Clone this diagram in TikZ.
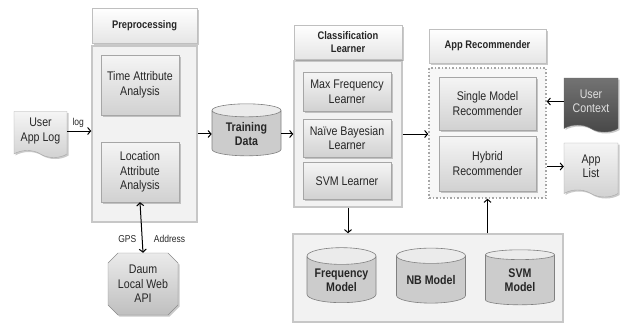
\documentclass[tikz,border=0pt]{standalone}
\usepackage{fontspec}
\newfontfamily\cond[FakeStretch=0.85]{Liberation Sans}
\usetikzlibrary{shapes.geometric,shapes.symbols,shapes.misc,arrows.meta,shadows}
\tikzset{
 txt/.style={font=\cond\fontsize{12.5}{14.5}\selectfont,text=black!85,align=center,inner sep=1pt},
 shd/.style={drop shadow={shadow xshift=1.5pt,shadow yshift=-1.5pt,opacity=0.35,fill=black!60}},
 box/.style={txt,shd,draw=black!35,top color=black!4,bottom color=black!18},
 hdr/.style={box,draw=black!25,line width=0.8pt,top color=white,bottom color=black!10,font=\cond\bfseries\fontsize{11}{12.5}\selectfont},
 grp/.style={draw=black!22,line width=1.5pt,fill=black!5},
 dotgrp/.style={draw=black!35,dotted,line width=1.5pt,fill=black!3},
 cyl/.style={txt,shape=cylinder,shape border rotate=90,aspect=0.3,draw=black!50,line width=0.6pt,cylinder uses custom fill,cylinder body fill=black!20,cylinder end fill=black!8,font=\cond\bfseries\fontsize{12.5}{14}\selectfont},
 docu/.style={box,shape=tape,tape bend top=none,tape bend bottom=out and in,tape bend height=7pt},
 plaque/.style={box,shape=chamfered rectangle,chamfered rectangle xsep=5pt,chamfered rectangle ysep=5pt,draw=black!45,top color=black!8,bottom color=black!25},
 lbl/.style={font=\cond\fontsize{10}{11}\selectfont,text=black!85},
 arr/.style={-{Straight Barb[length=3pt,width=7pt]},line width=1pt},
 darr/.style={{Straight Barb[length=3pt,width=7pt]}-{Straight Barb[length=3pt,width=7pt]},line width=1pt}
}
\begin{document}
\begin{tikzpicture}[x=1pt,y=-1pt]
 \useasboundingbox (0,0) rectangle (621,324);
 % Preprocessing
 \node[grp,minimum width=105,minimum height=176] (pre) at (144.5,134) {};
 \node[hdr,minimum width=105,minimum height=35] (prehd) at (144.5,25.5) {Preprocessing};
 \node[box,minimum width=78,minimum height=60] (time) at (140,85) {Time Attribute\\Analysis};
 \node[box,minimum width=78,minimum height=60] (loc) at (140,172) {Location\\Attribute\\Analysis};
 \node[docu,minimum width=53,minimum height=46] (ulog) at (40.5,131) {User\\App Log};
 \node[plaque,minimum width=70,minimum height=62] (daum) at (143,284) {Daum\\Local Web\\API};
 % Training data
 \node[cyl,minimum width=69,minimum height=52] (train) at (246.5,134) {Training\\Data};
 % Classification learner
 \node[grp,minimum width=108,minimum height=146] (cls) at (348,134) {};
 \node[hdr,minimum width=108,minimum height=34] (clshd) at (348,42) {Classification\\Learner};
 \node[box,minimum width=88,minimum height=39] (mfl) at (347,92) {Max Frequency\\Learner};
 \node[box,minimum width=88,minimum height=38] (nbl) at (347,138) {Naïve Bayesian\\Learner};
 \node[box,minimum width=88,minimum height=37] (svml) at (347,181) {SVM Learner};
 % App recommender
 \node[dotgrp,minimum width=117,minimum height=130] (app) at (487.5,133) {};
 \node[hdr,minimum width=117,minimum height=34] (apphd) at (487.5,46) {App Recommender};
 \node[box,minimum width=97,minimum height=53] (single) at (487.5,103.5) {Single Model\\Recommender};
 \node[box,minimum width=97,minimum height=55] (hybrid) at (487.5,163.5) {Hybrid\\Recommender};
 \node[docu,minimum width=54,minimum height=54,draw=black!60,top color=black!55,bottom color=black!72,text=black!12] (uctx) at (591,101.5) {User\\Context};
 \node[docu,minimum width=54,minimum height=54] (alist) at (591,166.5) {App\\List};
 % Models
 \node[grp,minimum width=270,minimum height=88] (models) at (428,278) {};
 \node[cyl,minimum width=69,minimum height=55] (freqm) at (341.5,280.5) {Frequency\\Model};
 \node[cyl,minimum width=69,minimum height=55] (nbm) at (431,280.5) {NB Model};
 \node[cyl,minimum width=69,minimum height=55] (svmm) at (520,280.5) {SVM\\Model};
 % arrows
 \draw[arr] (ulog.east) -- (pre.west |- ulog.east) node[lbl,midway,above,xshift=-1pt]{log};
 \draw[arr] (pre.east |- train.west) -- (train.west);
 \draw[arr] (train.east) -- (cls.west |- train.east);
 \draw[arr] (cls.east) -- (app.west |- cls.east);
 \draw[arr] (uctx.west) -- (app.east |- uctx.west);
 \draw[arr] (app.east |- alist.west) -- (alist.west);
 \draw[arr] (cls.south) -- (cls.south |- models.north);
 \draw[arr] (models.north -| app.south) -- (app.south);
 \draw[darr] (loc.south) -- (daum.north)
  node[lbl,pos=0.72,left,xshift=-2pt]{GPS} node[lbl,pos=0.72,right,xshift=8pt]{Address};
\end{tikzpicture}
\end{document}
